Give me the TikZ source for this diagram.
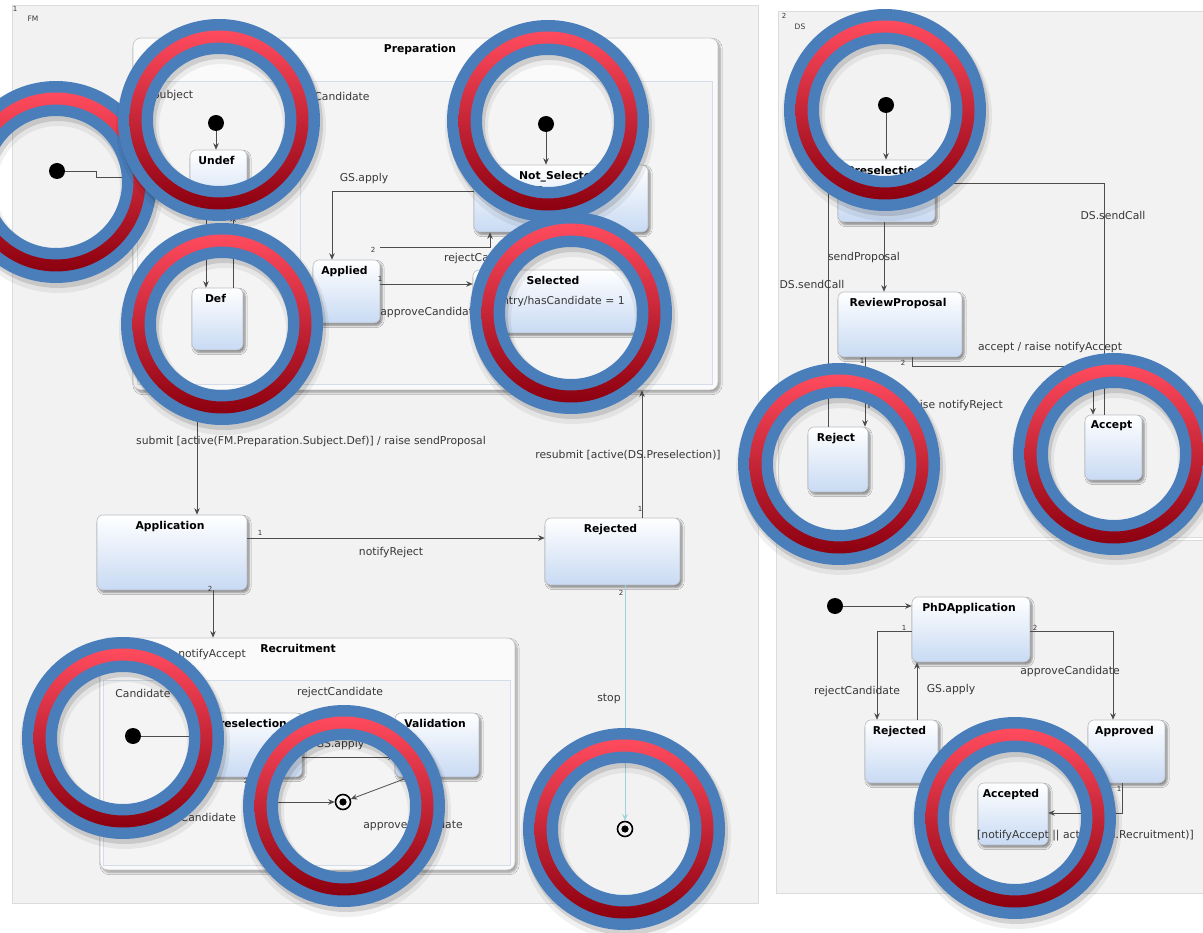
\documentclass[tikz,border=0pt]{standalone}
\usepackage{fontspec}
\setmainfont{DejaVu Sans}
\usetikzlibrary{arrows.meta,calc,shadows.blur}

\definecolor{panelfill}{HTML}{F2F2F2}
\definecolor{panelline}{HTML}{DCDCDC}
\definecolor{compline}{HTML}{C6C6C6}
\definecolor{compfill}{HTML}{FAFAFA}
\definecolor{regionline}{HTML}{D3DCE8}
\definecolor{regionfill}{HTML}{F4F4F4}
\definecolor{stateline}{HTML}{B9BDC3}
\definecolor{statebot}{HTML}{C8DAF3}
\definecolor{wire}{HTML}{4D4D4D}
\definecolor{stopwire}{HTML}{9CD3DC}
\definecolor{labeltext}{HTML}{383838}
\definecolor{ringblue}{HTML}{4A7EBB}
\definecolor{ringredtop}{HTML}{FF4B5E}
\definecolor{ringred}{HTML}{D7001D}
\definecolor{ringredbot}{HTML}{8C000F}

% highlight ring: blue / red gradient / blue bands with a soft shadow
\newcommand{\markring}[2]{%
  \fill[black,opacity=0.06,even odd rule] (#1+2,#2+6) circle (105pt) (#1+2,#2+6) circle (62pt);
  \fill[black,opacity=0.12,even odd rule] (#1+2,#2+4) circle (102pt) (#1+2,#2+4) circle (65pt);
  \fill[ringblue,even odd rule] (#1,#2) circle (101pt) (#1,#2) circle (66pt);
  \shade[even odd rule,top color=ringredtop,middle color=ringred,bottom color=ringredbot]
     (#1,#2) circle (89.5pt) (#1,#2) circle (77.5pt);
}

\tikzset{
  panel/.style={draw=panelline,fill=panelfill,line width=0.8pt,inner sep=0pt},
  comp/.style={draw=compline,fill=compfill,rounded corners=8pt,line width=0.7pt,inner sep=0pt,
    blur shadow={shadow xshift=2pt,shadow yshift=-2.5pt,shadow blur steps=6,shadow opacity=35}},
  region/.style={draw=regionline,fill=regionfill,line width=0.6pt,inner sep=0pt},
  stbox/.style={draw=stateline,rounded corners=6pt,top color=white,bottom color=statebot,
    line width=0.6pt,inner sep=0pt,
    blur shadow={shadow xshift=2pt,shadow yshift=-2.5pt,shadow blur steps=5,shadow opacity=45}},
  bold/.style={font=\fontsize{10.8}{13}\selectfont\bfseries,text=black,inner sep=1pt},
  sttitle/.style={bold,anchor=north,yshift=-5pt,xshift=-2pt},
  lbl/.style={font=\fontsize{10.8}{13}\selectfont,text=labeltext,inner sep=1pt},
  small/.style={font=\fontsize{7.5}{9}\selectfont,text=labeltext,inner sep=0.5pt},
  num/.style={font=\fontsize{7}{8}\selectfont,text=labeltext,inner sep=0.5pt},
  initst/.style={circle,fill=black,minimum size=16pt,inner sep=0pt},
  finalst/.style={circle,draw=black,line width=1.6pt,minimum size=15pt,inner sep=0pt,
    path picture={\fill[black] (path picture bounding box.center) circle (3.6pt);}},
  tr/.style={draw=wire,line width=0.8pt,-{Stealth[length=6.5pt,width=5.5pt]}},
  trplain/.style={draw=wire,line width=0.8pt},
  stoptr/.style={draw=stopwire,line width=1pt,-{Stealth[length=6.5pt,width=5.5pt]}},
}

\begin{document}
\begin{tikzpicture}[x=1pt,y=-1pt]
\useasboundingbox (0,0) rectangle (1203,933);
\fill[white] (0,0) rectangle (1203,933);

% ---------- top-level regions ----------
\node[panel,minimum width=746pt,minimum height=898pt] (fm) at (385,454) {};
\node[panel,minimum width=425pt,minimum height=526pt] (ds) at (990.5,274) {};
\node[panel,minimum width=427pt,minimum height=353pt] (phd) at (989.5,716.5) {};
\node[num] (fmnum) at (15,9) {1};
\node[small] (fmname) at (33,19) {FM};
\node[num] (dsnum) at (784,16) {2};
\node[small] (dsname) at (800,27) {DS};

% ---------- Preparation ----------
\node[comp,minimum width=585pt,minimum height=352pt] (prep) at (425.5,214) {};
\node[region,minimum width=163pt,minimum height=303pt] (subjreg) at (218.5,232.5) {};
\node[region,minimum width=412pt,minimum height=303pt] (candreg) at (506,232.5) {};
\node[bold] (preptitle) at (420,50) {Preparation};
\node[lbl] (subjname) at (173,96) {Subject};
\node[lbl] (candname) at (342,96) {Candidate};

\node[initst] (subjinit) at (216,123) {};
\node[stbox,minimum width=57pt,minimum height=65pt,label={[sttitle]north:Undef}] (undef) at (218.5,182.5) {};
\node[stbox,minimum width=51pt,minimum height=62pt,label={[sttitle]north:Def}] (def) at (217.5,319) {};

\node[initst] (candinit) at (546,124) {};
\node[stbox,minimum width=174pt,minimum height=67pt,label={[sttitle]north:Not\_Selected}] (notsel) at (561,198.5) {};
\node[lbl] (notselbody) at (549,192) {entry/hasCandidate = 0};
\node[stbox,minimum width=67pt,minimum height=63pt,label={[sttitle]north:Applied}] (applied) at (346.5,291.5) {};
\node[stbox,minimum width=164pt,minimum height=63pt,label={[sttitle]north:Selected}] (selected) at (555,301.5) {};
\node[lbl] (selbody) at (560,302) {entry/hasCandidate = 1};

% ---------- FM top level ----------
\node[initst] (fminit) at (57,171) {};
\node[stbox,minimum width=150pt,minimum height=75pt,label={[sttitle]north:Application}] (application) at (172,552.5) {};
\node[stbox,minimum width=135pt,minimum height=67pt,label={[sttitle]north:Rejected}] (rejected) at (612.5,551.5) {};
\node[finalst] (fmfinal) at (625,829) {};

% ---------- Recruitment ----------
\node[comp,minimum width=415pt,minimum height=232pt] (recr) at (307.5,754) {};
\node[region,minimum width=407pt,minimum height=185pt] (recreg) at (306.5,772.5) {};
\node[bold] (recrtitle) at (298,648) {Recruitment};
\node[lbl] (recname) at (143,693) {Candidate};
\node[initst] (recinit) at (133,736) {};
\node[stbox,minimum width=102pt,minimum height=64pt,label={[sttitle]north:Preselection}] (presel) at (251,745) {};
\node[stbox,minimum width=84pt,minimum height=64pt,label={[sttitle]north:Validation}] (valid) at (437,745) {};
\node[finalst] (recfinal) at (343,802) {};

% ---------- DS ----------
\node[initst] (dsinit) at (886,105) {};
\node[stbox,minimum width=97pt,minimum height=62pt,label={[sttitle]north:Preselection}] (dspre) at (886.5,191) {};
\node[stbox,minimum width=124pt,minimum height=65pt,label={[sttitle]north:ReviewProposal}] (review) at (900,324.5) {};
\node[stbox,minimum width=60pt,minimum height=65pt,label={[sttitle]north:Reject}] (reject) at (838,459.5) {};
\node[stbox,minimum width=57pt,minimum height=65pt,label={[sttitle]north:Accept}] (accept) at (1113.5,447.5) {};

% ---------- PhD application ----------
\node[initst] (phdinit) at (835,606) {};
\node[stbox,minimum width=118pt,minimum height=65pt,label={[sttitle]north:PhDApplication}] (phdapp) at (971,629.5) {};
\node[stbox,minimum width=73pt,minimum height=63pt,label={[sttitle]north:Rejected}] (rejected2) at (901.5,751.5) {};
\node[stbox,minimum width=77pt,minimum height=63pt,label={[sttitle]north:Approved}] (approved) at (1126.5,751.5) {};
\node[stbox,minimum width=70pt,minimum height=62pt,label={[sttitle]north:Accepted}] (accepted) at (1013,814) {};

% ---------- transitions: Preparation ----------
\draw[tr] (fminit) -- (96,171) -- (96,177) -- (prep.west |- 0,177);
\draw[tr] (subjinit) -- (undef.north -| subjinit);
\draw[tr] (undef.south -| 206,0) -- (def.north -| 206,0);
\draw[tr] (def.north -| 233,0) -- (undef.south -| 233,0);
\draw[tr] (candinit) -- (notsel.north -| candinit);
\draw[tr] (notsel.west |- 0,191) -- (332,191) -- (applied.north -| 332,0);
\node[lbl] (lgsapply) at (364,179) {GS.apply};
\draw[tr] (applied.east |- 0,247) -- (490,247) -- (notsel.south -| 490,0);
\node[num] (n2applied) at (373,250) {2};
\node[lbl] (lrejcand) at (487,259) {rejectCandidate};
\draw[tr] (applied.east |- 0,284) -- (selected.west |- 0,284);
\node[num] (n1applied) at (380,279) {1};
\node[lbl] (lappcand) at (430,313) {approveCandidate};

% ---------- transitions: FM ----------
\draw[tr] (prep.south -| 197,0) -- (application.north -| 197,0);
\node[lbl] (lsubmit) at (311,442) {submit [active(FM.Preparation.Subject.Def)] / raise sendProposal};
\draw[tr] (rejected.north -| 642,0) -- (prep.south -| 642,0);
\node[num] (n1rej) at (640,509) {1};
\node[lbl] (lresubmit) at (628,455) {resubmit [active(DS.Preselection)]};
\draw[tr] (application.east |- 0,538) -- (rejected.west |- 0,538);
\node[num] (n1app) at (260,533) {1};
\node[lbl] (lnotrej) at (391,553) {notifyReject};
\draw[tr] (application.south -| 213,0) -- (recr.north -| 213,0);
\node[num] (n2app) at (210,589) {2};
\node[lbl] (lnotacc) at (212,655) {notifyAccept};
\draw[stoptr] (rejected.south -| 625,0) -- (fmfinal);
\node[num] (n2rej) at (621,593) {2};
\node[lbl] (lstop) at (609,699) {stop};

% ---------- transitions: Recruitment ----------
\draw[tr] (recinit) -- (presel.west |- recinit);
\draw[tr] (presel.east |- 0,757) -- (valid.west |- 0,757);
\node[num] (n1pre) at (305,750) {1};
\node[lbl] (lgsapply2) at (340,745) {GS.apply};
\draw[tr] (presel.south -| 255,0) -- (255,802) -- (recfinal);
\node[num] (n2pre) at (246,781) {2};
\node[lbl] (lrejcand2) at (193,819) {rejectCandidate};
\draw[tr] ($(valid.south west)+(14,0)$) -- (recfinal);
\node[lbl] (lappcand2) at (413,826) {approveCandidate};
\node[lbl] (lrejcand3) at (340,693) {rejectCandidate};

% ---------- transitions: DS ----------
\draw[tr] (dsinit) -- (dspre.north -| dsinit);
\draw[tr] (dspre.south -| 884,0) -- (review.north -| 884,0);
\node[lbl] (lsendprop) at (864,258) {sendProposal};
\draw[trplain] (dspre.west |- 0,183) -- (828,183) -- (reject.north -| 828,0);
\node[lbl] (lsendcall1) at (812,284) {DS.sendCall};
\draw[trplain] (dspre.east |- 0,183) -- (1104,183) -- (accept.north -| 1104,0);
\node[lbl] (lsendcall2) at (1113,215) {DS.sendCall};
\draw[tr] (review.south -| 865,0) -- (reject.north -| 865,0);
\node[num] (n1rev) at (862,361) {1};
\node[lbl,anchor=east] (lreject) at (1004,406) {reject / raise notifyReject};
\draw[tr] (review.south -| 912,0) -- (912,366) -- (1093,366) -- (accept.north -| 1093,0);
\node[num] (n2rev) at (903,363) {2};
\node[lbl] (laccept) at (1050,348) {accept / raise notifyAccept};

% ---------- transitions: PhD application ----------
\draw[tr] (phdinit) -- (phdapp.west |- phdinit);
\draw[tr] (phdapp.west |- 0,631) -- (877,631) -- (rejected2.north -| 877,0);
\node[num] (n1phd) at (904,628) {1};
\node[lbl] (lrejcand4) at (857,692) {rejectCandidate};
\draw[tr] (rejected2.north -| 917,0) -- (phdapp.south -| 917,0);
\node[lbl] (lgsapply3) at (951,690) {GS.apply};
\draw[tr] (phdapp.east |- 0,631) -- (1113,631) -- (approved.north -| 1113,0);
\node[num] (n2phd) at (1035,628) {2};
\node[lbl] (lappcand3) at (1070,672) {approveCandidate};
\draw[tr] (approved.south -| 1122,0) -- (1122,813) -- (accepted.east |- 0,813);
\node[num] (n1appr) at (1119,789) {1};
\node[lbl,anchor=west] (lnotacc2) at (976,836) {[notifyAccept || active(FM.Recruitment)]};

% ---------- highlight rings ----------
\markring{56}{182}
\markring{219}{120}
\markring{222}{324}
\markring{548}{121}
\markring{571}{313}
\markring{885}{110}
\markring{839}{464}
\markring{1114}{454}
\markring{1015}{818}
\markring{123}{738}
\markring{344}{806}
\markring{624}{829}
\end{tikzpicture}
\end{document}
